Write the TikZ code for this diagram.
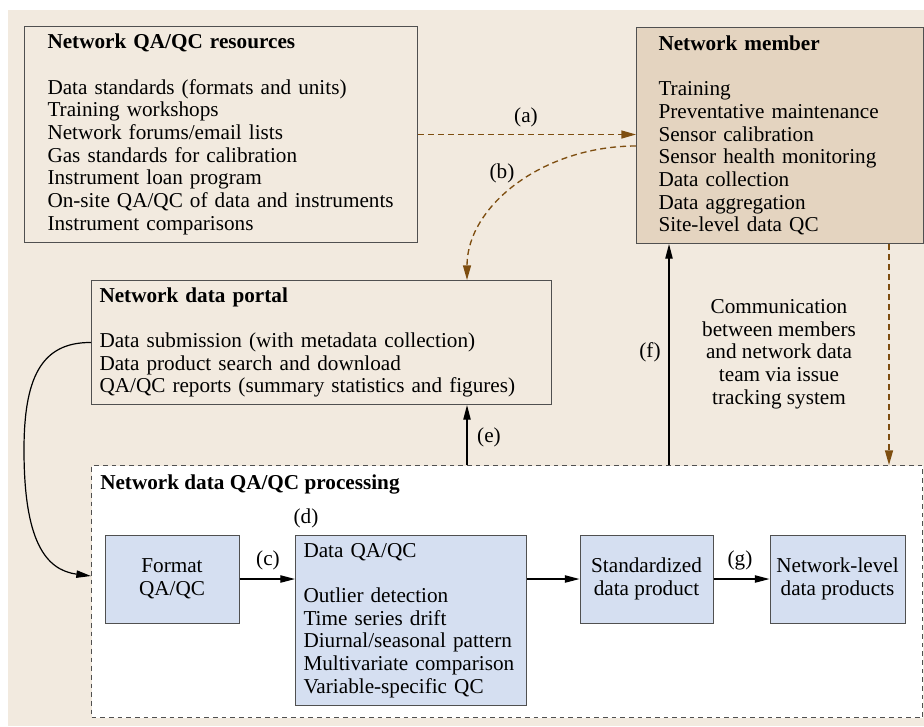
\documentclass[tikz,border=0pt]{standalone}
\usepackage{fontspec}
\setmainfont{Liberation Serif}
\usetikzlibrary{arrows.meta,calc}
\definecolor{paper}{HTML}{F2EADF}
\definecolor{member}{HTML}{E4D4C0}
\definecolor{subblue}{HTML}{D5DFF1}
\definecolor{boxline}{HTML}{505050}
\definecolor{linkbrown}{HTML}{7E4E10}
\newcommand\boxfont{\fontsize{15.9}{17}\selectfont
  \hyphenpenalty=10000\relax\exhyphenpenalty=10000\relax}
\begin{document}
\begin{tikzpicture}[x=0.75pt,y=-0.75pt,
  txt/.style={font=\boxfont},
  box/.style={txt, draw=boxline, line width=0.75pt, anchor=north west,
    inner ysep=0pt, align=left},
  sub/.style={txt, draw=boxline, line width=0.75pt, fill=subblue,
    align=center, inner sep=0pt, minimum height=66pt},
  lab/.style={txt, inner sep=0pt},
  arr/.style={-{Triangle[length=11pt,width=5.5pt]}, line width=0.9pt, black},
  darr/.style={-{Triangle[length=11pt,width=6pt]}, linkbrown, line width=1pt,
    dash pattern=on 4.5pt off 3pt}
]
\useasboundingbox (0,0) rectangle (924,726);
\fill[paper] (8,10) rectangle (924,726);

% resources and member boxes
\node[box, fill=paper, text width=260.25pt, inner xsep=17.25pt,
      minimum height=162pt] (res) at (24,26)
  {\textbf{Network QA/QC resources}\\[17pt]
   Data standards (formats and units)\\
   Training workshops\\
   Network forums/email lists\\
   Gas standards for calibration\\
   Instrument loan program\\
   On-site QA/QC of data and instruments\\
   Instrument comparisons};

\node[box, fill=member, text width=182.25pt, inner xsep=16.5pt,
      minimum height=162pt] (member) at (636,27)
  {\textbf{Network member}\\[17pt]
   Training\\
   Preventative maintenance\\
   Sensor calibration\\
   Sensor health monitoring\\
   Data collection\\
   Data aggregation\\
   Site-level data QC};

% data portal
\node[box, fill=paper, text width=333pt, inner xsep=6pt,
      minimum height=93pt] (portal) at (91,280)
  {\textbf{Network data portal}\\[17pt]
   Data submission (with metadata collection)\\
   Data product search and download\\
   QA/QC reports (summary statistics and figures)};

% processing frame
\node[draw=boxline, line width=0.75pt, dash pattern=on 3.5pt off 3pt,
      fill=white, anchor=north west, inner sep=0pt,
      minimum width=623.25pt, minimum height=189pt] (proc) at (91,465) {};
\node[lab, anchor=west, font=\boxfont\bfseries] (proct) at (100,484)
  {Network data QA/QC processing};

% processing steps
\node[sub, minimum width=100.5pt] (fmt) at (172,579) {Format\\QA/QC};
\node[box, fill=subblue, text width=161.25pt, inner xsep=6pt,
      minimum height=127.5pt] (dqc) at (295,535)
  {Data QA/QC\\[17pt]
   Outlier detection\\
   Time series drift\\
   Diurnal/seasonal pattern\\
   Multivariate comparison\\
   Variable-specific QC};
\node[sub, minimum width=99.75pt] (std) at (646.5,579) {Standardized\\data product};
\node[sub, minimum width=101.25pt] (net) at (837.5,579) {Network-level\\data products};

\draw[arr] (fmt.east) -- (fmt.east -| dqc.west);
\draw[arr] (dqc.east |- std.west) -- (std.west);
\draw[arr] (std) -- (net);

% links between the upper blocks
\coordinate (ex) at (467,0);
\coordinate (fx) at (669,0);
\coordinate (gx) at (889,0);
\coordinate (bstart) at (636,146);
\coordinate (pin) at (91,576);

\draw[darr] (res.east) -- (res.east -| member.west);
\draw[darr] (bstart) .. controls (543,146) and (467,206) .. (portal.north -| ex);
\draw[arr] (proc.north -| ex) -- (portal.south -| ex);
\draw[arr] (proc.north -| fx) -- (member.south -| fx);
\draw[darr] (member.south -| gx) -- (proc.north -| gx);
\draw[arr] (portal.west) .. controls (40,342) and (24,380) .. (24,450)
  .. controls (24,540) and (45,570) .. (pin);

\node[lab] (comm) at (779,354) [align=center]
  {Communication\\between members\\and network data\\team via issue\\tracking system};

% link labels
\node[lab] (la) at (526,117) {(a)};
\node[lab] (lb) at (502,173) {(b)};
\node[lab] (lc) at (268,560) {(c)};
\node[lab] (ld) at (306,518) {(d)};
\node[lab] (le) at (489,437) {(e)};
\node[lab] (lf) at (650,352) {(f)};
\node[lab] (lg) at (740,560) {(g)};
\end{tikzpicture}
\end{document}
